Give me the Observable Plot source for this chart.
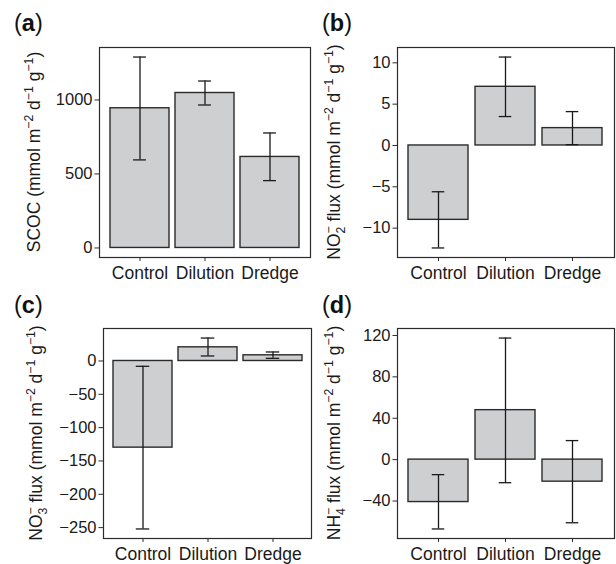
<!DOCTYPE html>
<html>
<head>
<meta charset="utf-8">
<script src="https://cdn.jsdelivr.net/npm/d3@7"></script>
<script src="https://cdn.jsdelivr.net/npm/@observablehq/plot@0.6"></script>
<style>
  html, body { margin: 0; padding: 0; background: #fff; }
  #wrap { position: relative; width: 616px; height: 564px; overflow: hidden; }
  .panel { position: absolute; }
  .panel svg { overflow: visible; }
</style>
</head>
<body>
<div id="wrap"></div>
<script>
// ---- data ----
const groups = ["Control", "Dilution", "Dredge"];

const scocMean = [944, 1047, 615];
const scocLo   = [595, 966, 455];
const scocHi   = [1290, 1128, 777];
const scocTicks = [0, 500, 1000];

const no2Mean = [-9.0, 7.1, 2.1];
const no2Lo   = [-12.4, 3.5, 0.1];
const no2Hi   = [-5.6, 10.7, 4.1];
const no2Ticks = [-10, -5, 0, 5, 10];

const no3Mean = [-130, 20.5, 8.5];
const no3Lo   = [-252, 7.5, 4];
const no3Hi   = [-8, 34.4, 13.5];
const no3Ticks = [-250, -200, -150, -100, -50, 0];

const nh4Mean = [-41, 47.8, -21.3];
const nh4Lo   = [-67, -22.3, -61];
const nh4Hi   = [-14.5, 117.5, 18.4];
const nh4Ticks = [-40, 0, 40, 80, 120];

const unitParts = [
  {t: " ("}, {t: "mmol m"}, {t: "−2", k: "sup"}, {t: " d"}, {t: "−1", k: "sup"},
  {t: " g"}, {t: "−1", k: "sup"}, {t: ")"}
];

const FONT = "'Liberation Sans', Arial, Helvetica, sans-serif";
const BAR_FILL = "#cdcfd1";
const INK = "#2b2b2b";

function addTitle(svg, x, cy, parts, size) {
  const t = d3.select(svg).append("text")
    .attr("transform", `translate(${x},${cy}) rotate(-90)`)
    .attr("text-anchor", "middle")
    .attr("font-size", size)
    .attr("font-family", FONT)
    .attr("fill", "#1a1a1a")
    .style("white-space", "pre");
  let shift = 0;
  for (const p of parts) {
    const ts = t.append("tspan").text(p.t);
    let target = 0, fs = null, dx = 0;
    if (p.k === "sup") { target = -0.42 * size; fs = 0.7 * size; }
    else if (p.k === "sub") { target = 0.28 * size; fs = 0.7 * size; }
    else if (p.k === "supstack") { target = -0.42 * size; fs = 0.7 * size; dx = -p.back * 0.7 * size; }
    if (target - shift !== 0) ts.attr("dy", target - shift);
    shift = target;
    if (fs) ts.attr("font-size", fs);
    if (dx) ts.attr("dx", dx);
  }
}

function addLetter(svg, letter, x, y) {
  const t = d3.select(svg).append("text")
    .attr("x", x).attr("y", y)
    .attr("text-anchor", "start")
    .attr("font-size", 23.5)
    .attr("font-family", FONT)
    .attr("fill", "#111")
    .style("white-space", "pre");
  t.append("tspan").text("(");
  t.append("tspan").attr("font-weight", "bold").text(letter);
  t.append("tspan").text(")");
}

function panel(o) {
  const data = groups.map((g, i) => ({g, mean: o.mean[i], lo: o.lo[i], hi: o.hi[i]}));
  const lo = Math.min(0, d3.min(o.lo)), hi = Math.max(0, d3.max(o.hi));
  const pad = 0.05 * (hi - lo);
  const step = (o.width - o.mL - o.mR) / 3.2;
  const capInset = step * 0.35;
  const svg = Plot.plot({
    width: o.width, height: o.height,
    marginLeft: o.mL, marginRight: o.mR, marginTop: o.mT, marginBottom: o.mB,
    style: {fontFamily: FONT, color: INK, background: "transparent", overflow: "visible"},
    x: {type: "band", domain: groups, paddingInner: 0.1, paddingOuter: 0.15, label: null},
    y: {domain: [lo - pad, hi + pad], label: null},
    marks: [
      Plot.barY(data, {x: "g", y1: () => 0, y2: "mean", fill: BAR_FILL, stroke: INK, strokeWidth: 1.4}),
      Plot.ruleX(data, {x: "g", y1: "lo", y2: "hi", stroke: "#1a1a1a", strokeWidth: 1.3}),
      Plot.tickY(data, {x: "g", y: "lo", stroke: "#1a1a1a", strokeWidth: 1.3, insetLeft: capInset, insetRight: capInset}),
      Plot.tickY(data, {x: "g", y: "hi", stroke: "#1a1a1a", strokeWidth: 1.3, insetLeft: capInset, insetRight: capInset}),
      Plot.frame({stroke: INK, strokeWidth: 1.2}),
      Plot.axisY({ticks: o.ticks, tickFormat: d3.format("d"), tickSize: 4.5, tickPadding: 2.5, fontSize: 16.5, label: null, fill: "#1a1a1a"}),
      Plot.axisX({tickSize: 4, tickPadding: 5, fontSize: 17.5, label: null, fill: "#1a1a1a"})
    ]
  });
  const div = document.createElement("div");
  div.className = "panel";
  div.style.left = o.left + "px";
  div.style.top = o.top + "px";
  div.appendChild(svg);
  document.getElementById("wrap").appendChild(div);
  const cy = o.mT + (o.height - o.mT - o.mB) / 2;
  addTitle(svg, o.titleX, cy, o.title, 17.5);
  addLetter(svg, o.letter, 14, 31);
}

panel({left: 0, top: 0, width: 312, height: 282, mL: 99, mR: 2, mT: 47, mB: 25,
  mean: scocMean, lo: scocLo, hi: scocHi, ticks: scocTicks, letter: "a", titleX: 40,
  title: [{t: "SCOC"}, ...unitParts]});

panel({left: 308, top: 0, width: 308, height: 282, mL: 89, mR: 2, mT: 47, mB: 25,
  mean: no2Mean, lo: no2Lo, hi: no2Hi, ticks: no2Ticks, letter: "b", titleX: 32,
  title: [{t: "NO"}, {t: "2", k: "sub"}, {t: "−", k: "supstack", back: 0.556}, {t: " flux"}, ...unitParts]});

panel({left: 0, top: 282, width: 312, height: 282, mL: 103, mR: 1, mT: 46, mB: 26,
  mean: no3Mean, lo: no3Lo, hi: no3Hi, ticks: no3Ticks, letter: "c", titleX: 42,
  title: [{t: "NO"}, {t: "3", k: "sub"}, {t: "−", k: "supstack", back: 0.556}, {t: " flux"}, ...unitParts]});

panel({left: 308, top: 282, width: 308, height: 282, mL: 89, mR: 2, mT: 46, mB: 26,
  mean: nh4Mean, lo: nh4Lo, hi: nh4Hi, ticks: nh4Ticks, letter: "d", titleX: 32,
  title: [{t: "NH"}, {t: "4", k: "sub"}, {t: "−", k: "supstack", back: 0.556}, {t: " flux"}, ...unitParts]});
</script>
</body>
</html>
